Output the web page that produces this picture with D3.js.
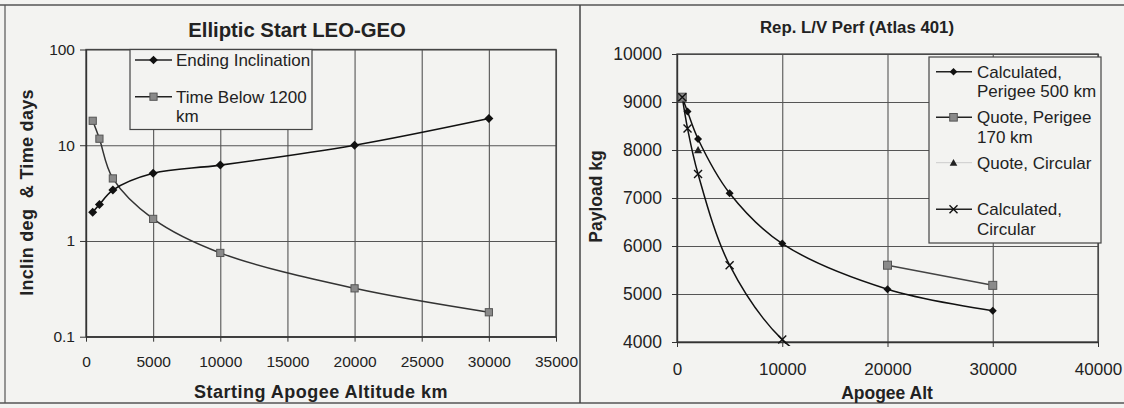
<!DOCTYPE html>
<html><head><meta charset="utf-8">
<script src="https://cdn.jsdelivr.net/npm/d3@7"></script>
<style>
html,body{margin:0;padding:0;background:#f3f3f1;}
svg{display:block;font-family:"Liberation Sans",Arial,sans-serif;}
</style></head>
<body>
<svg id="c" width="1124" height="408"></svg>
<script>
// ---------- DATA ----------
// Left chart: Elliptic Start LEO-GEO
const leftApogee = [500, 1000, 2000, 5000, 10000, 20000, 30000];
const endingInclination = [2.0, 2.4, 3.4, 5.1, 6.2, 10, 19];
const timeBelow1200 = [18, 11.7, 4.5, 1.7, 0.75, 0.32, 0.18];
const leftXTicks = [0, 5000, 10000, 15000, 20000, 25000, 30000, 35000];
const leftYTicks = [0.1, 1, 10, 100];
const leftLegend = [["Ending Inclination"], ["Time Below 1200", "km"]];

// Right chart: Rep. L/V Perf (Atlas 401)
const rightApogee = [500, 1000, 2000, 5000, 10000, 20000, 30000];
const calcPerigee500 = [9100, 8800, 8230, 7100, 6050, 5100, 4650];
const quotePerigee170 = [9100, null, null, null, null, 5600, 5180];
const quoteCircular = [null, null, 8000, null, null, null, null];
const calcCircularApogee = [500, 1000, 2000, 5000, 10000, 20000];
const calcCircular = [9100, 8450, 7500, 5600, 4050, 2600];
const rightXTicks = [0, 10000, 20000, 30000, 40000];
const rightYTicks = [4000, 5000, 6000, 7000, 8000, 9000, 10000];
const rightLegend = [["Calculated,", "Perigee 500 km"], ["Quote, Perigee", "170 km"], ["Quote, Circular"], ["Calculated,", "Circular"]];

// ---------- DRAW ----------
const svg = d3.select("#c");
const BG = "#f3f3f1", GRID = "#555";
const FONT = '"Liberation Sans", Arial, sans-serif';

// panel frame
svg.append("line").attr("x1",0).attr("x2",1124).attr("y1",5).attr("y2",5).attr("stroke","#555").attr("stroke-width",1.5);
svg.append("line").attr("x1",0).attr("x2",1124).attr("y1",403).attr("y2",403).attr("stroke","#555").attr("stroke-width",1.5);
svg.append("line").attr("x1",5).attr("x2",5).attr("y1",5).attr("y2",403).attr("stroke","#555").attr("stroke-width",1.2);
svg.append("line").attr("x1",580).attr("x2",580).attr("y1",5).attr("y2",403).attr("stroke","#444").attr("stroke-width",1.5);

function marker(g, type, x, y, s) {
  if (type === "diamond") {
    g.append("path").attr("d", `M${x},${y-s}L${x+s},${y}L${x},${y+s}L${x-s},${y}Z`).attr("fill", "#111");
  } else if (type === "square") {
    g.append("rect").attr("x", x-s).attr("y", y-s).attr("width", 2*s).attr("height", 2*s)
      .attr("fill", "#8a8a8a").attr("stroke", "#555").attr("stroke-width", 1);
  } else if (type === "triangle") {
    g.append("path").attr("d", `M${x},${y-s}L${x+s},${y+s*0.8}L${x-s},${y+s*0.8}Z`).attr("fill", "#222");
  } else if (type === "x") {
    g.append("path").attr("d", `M${x-s},${y-s}L${x+s},${y+s}M${x+s},${y-s}L${x-s},${y+s}`)
      .attr("stroke", "#111").attr("stroke-width", 1.4).attr("fill", "none");
  }
}

// ================= LEFT CHART =================
(function(){
  const L = 86, R = 556, T = 49.5, B = 336.7;
  const x = d3.scaleLinear().domain([0, 35000]).range([L, R]);
  const y = d3.scaleLog().domain([0.1, 100]).range([B, T]);
  const g = svg.append("g");

  g.append("g").attr("transform", `translate(0,${B})`)
    .call(d3.axisBottom(x).tickValues(leftXTicks).tickSize(-(B - T)).tickFormat(""))
    .call(s => { s.select(".domain").remove(); s.selectAll("line").attr("stroke", GRID).attr("stroke-width", 1.1); });
  g.append("g").attr("transform", `translate(${L},0)`)
    .call(d3.axisLeft(y).tickValues(leftYTicks).tickSize(-(R - L)).tickFormat(""))
    .call(s => { s.select(".domain").remove(); s.selectAll("line").attr("stroke", GRID).attr("stroke-width", 1.1); });
  g.append("rect").attr("x", L).attr("y", T).attr("width", R - L).attr("height", B - T)
    .attr("fill", "none").attr("stroke", "#444").attr("stroke-width", 1.3);

  g.append("g").attr("transform", `translate(0,${B})`)
    .call(d3.axisBottom(x).tickValues(leftXTicks).tickSizeInner(5).tickSizeOuter(0).tickPadding(14).tickFormat(d3.format("")))
    .call(s => { s.select(".domain").attr("stroke", "#333").attr("stroke-width", 1.3);
      s.selectAll("line").attr("stroke", "#333");
      s.selectAll("text").attr("font-family", FONT).attr("font-size", 15.5).attr("fill", "#222"); });
  g.append("g").attr("transform", `translate(${L},0)`)
    .call(d3.axisLeft(y).tickValues(leftYTicks).tickSizeInner(6).tickSizeOuter(0).tickPadding(5).tickFormat(d3.format("")))
    .call(s => { s.select(".domain").attr("stroke", "#333").attr("stroke-width", 1.3);
      s.selectAll("line").attr("stroke", "#333");
      s.selectAll("text").attr("font-family", FONT).attr("font-size", 15.5).attr("fill", "#222"); });

  const line = d3.line().x(d => x(d[0])).y(d => y(d[1])).curve(d3.curveCatmullRom.alpha(0.5));
  const s1 = leftApogee.map((a, i) => [a, endingInclination[i]]);
  const s2 = leftApogee.map((a, i) => [a, timeBelow1200[i]]);
  g.append("path").attr("d", line(s2)).attr("fill", "none").attr("stroke", "#333").attr("stroke-width", 1.5);
  g.append("path").attr("d", line(s1)).attr("fill", "none").attr("stroke", "#111").attr("stroke-width", 1.6);
  s2.forEach(d => marker(g, "square", x(d[0]), y(d[1]), 3.6));
  s1.forEach(d => marker(g, "diamond", x(d[0]), y(d[1]), 4.5));

  const lg = g.append("g");
  lg.append("rect").attr("x", 130).attr("y", 49.5).attr("width", 182).attr("height", 80)
    .attr("fill", BG).attr("stroke", "#444").attr("stroke-width", 1.2);
  const rows = [60, 96.7];
  const types = ["diamond", "square"];
  leftLegend.forEach((lines, i) => {
    const yy = rows[i];
    lg.append("line").attr("x1", 135).attr("x2", 172).attr("y1", yy).attr("y2", yy).attr("stroke", "#222").attr("stroke-width", 1.5);
    marker(lg, types[i], 153.5, yy, types[i] === "diamond" ? 4.3 : 3.6);
    lines.forEach((t, j) => lg.append("text").attr("x", 176).attr("y", yy + j * 19).attr("dy", "0.36em")
      .attr("font-size", 17).attr("fill", "#222").text(t));
  });

  g.append("text").attr("x", 297).attr("y", 30).attr("dy", "0.36em").attr("text-anchor", "middle")
    .attr("font-size", 20.3).attr("font-weight", "bold").attr("fill", "#222").text("Elliptic Start LEO-GEO");
  g.append("text").attr("x", 321).attr("y", 391.7).attr("dy", "0.36em").attr("text-anchor", "middle")
    .attr("font-size", 18).attr("font-weight", "bold").attr("letter-spacing", 0.5).attr("fill", "#222").text("Starting Apogee Altitude km");
  g.append("text").attr("transform", "translate(26.7,192.5) rotate(-90)").attr("dy", "0.36em").attr("text-anchor", "middle")
    .attr("font-size", 18).attr("font-weight", "bold").attr("letter-spacing", 0.3).attr("fill", "#222")
    .style("white-space", "pre").text("Inclin deg  & Time days");
})();

// ================= RIGHT CHART =================
(function(){
  const L = 677, R = 1098, T = 54, B = 342;
  const x = d3.scaleLinear().domain([0, 40000]).range([L, R]);
  const y = d3.scaleLinear().domain([4000, 10000]).range([B, T]);
  const g = svg.append("g");

  svg.append("clipPath").attr("id", "clipR").append("rect").attr("x", L).attr("y", T - 6).attr("width", R - L).attr("height", B - T + 10);

  g.append("g").attr("transform", `translate(0,${B})`)
    .call(d3.axisBottom(x).tickValues(rightXTicks).tickSize(-(B - T)).tickFormat(""))
    .call(s => { s.select(".domain").remove(); s.selectAll("line").attr("stroke", GRID).attr("stroke-width", 1.1); });
  g.append("g").attr("transform", `translate(${L},0)`)
    .call(d3.axisLeft(y).tickValues(rightYTicks).tickSize(-(R - L)).tickFormat(""))
    .call(s => { s.select(".domain").remove(); s.selectAll("line").attr("stroke", GRID).attr("stroke-width", 1.1); });
  g.append("rect").attr("x", L).attr("y", T).attr("width", R - L).attr("height", B - T)
    .attr("fill", "none").attr("stroke", "#444").attr("stroke-width", 1.3);

  g.append("g").attr("transform", `translate(0,${B})`)
    .call(d3.axisBottom(x).tickValues(rightXTicks).tickSizeInner(5).tickSizeOuter(0).tickPadding(16).tickFormat(d3.format("")))
    .call(s => { s.select(".domain").attr("stroke", "#333").attr("stroke-width", 1.3);
      s.selectAll("line").attr("stroke", "#333");
      s.selectAll("text").attr("font-family", FONT).attr("font-size", 17).attr("fill", "#222"); });
  g.append("g").attr("transform", `translate(${L},0)`)
    .call(d3.axisLeft(y).tickValues(rightYTicks).tickSizeInner(5).tickSizeOuter(0).tickPadding(10).tickFormat(d3.format("")))
    .call(s => { s.select(".domain").attr("stroke", "#333").attr("stroke-width", 1.3);
      s.selectAll("line").attr("stroke", "#333");
      s.selectAll("text").attr("font-family", FONT).attr("font-size", 17.5).attr("fill", "#222"); });

  const line = d3.line().defined(d => d[1] != null).x(d => x(d[0])).y(d => y(d[1])).curve(d3.curveCatmullRom.alpha(0.5));
  const a = rightApogee.map((v, i) => [v, calcPerigee500[i]]);
  const b = rightApogee.map((v, i) => [v, quotePerigee170[i]]);
  const c = rightApogee.map((v, i) => [v, quoteCircular[i]]);
  const dd = calcCircularApogee.map((v, i) => [v, calcCircular[i]]);
  const pg = g.append("g").attr("clip-path", "url(#clipR)");
  pg.append("path").attr("d", line(b)).attr("fill", "none").attr("stroke", "#444").attr("stroke-width", 1.5);
  pg.append("path").attr("d", line(dd)).attr("fill", "none").attr("stroke", "#111").attr("stroke-width", 1.5);
  pg.append("path").attr("d", line(a)).attr("fill", "none").attr("stroke", "#111").attr("stroke-width", 1.5);
  a.forEach(d => marker(pg, "diamond", x(d[0]), y(d[1]), 4));
  b.filter(d => d[1] != null).forEach(d => marker(pg, "square", x(d[0]), y(d[1]), 4));
  c.filter(d => d[1] != null).forEach(d => marker(pg, "triangle", x(d[0]), y(d[1]), 4));
  dd.forEach(d => marker(pg, "x", x(d[0]), y(d[1]), 4));

  const lg = g.append("g");
  lg.append("rect").attr("x", 929).attr("y", 57).attr("width", 172).attr("height", 186)
    .attr("fill", BG).attr("stroke", "#444").attr("stroke-width", 1.2);
  const rows = [71.7, 117.3, 162.7, 209.3];
  const types = ["diamond", "square", "triangle", "x"];
  rightLegend.forEach((lines, i) => {
    const yy = rows[i];
    lg.append("line").attr("x1", 936).attr("x2", 972).attr("y1", yy).attr("y2", yy)
      .attr("stroke", types[i] === "triangle" ? "#ccc" : "#222").attr("stroke-width", types[i] === "triangle" ? 1 : 1.5);
    marker(lg, types[i], 953.5, yy, types[i] === "x" ? 4 : 3.8);
    lines.forEach((t, j) => lg.append("text").attr("x", 977).attr("y", yy + j * 19.5).attr("dy", "0.36em")
      .attr("font-size", 17).attr("fill", "#222").text(t));
  });

  g.append("text").attr("x", 857).attr("y", 26.7).attr("dy", "0.36em").attr("text-anchor", "middle")
    .attr("font-size", 16.8).attr("font-weight", "bold").attr("fill", "#222").text("Rep. L/V Perf (Atlas 401)");
  g.append("text").attr("x", 887).attr("y", 392.7).attr("dy", "0.36em").attr("text-anchor", "middle")
    .attr("font-size", 17.5).attr("font-weight", "bold").attr("fill", "#222").text("Apogee Alt");
  g.append("text").attr("transform", "translate(596,196.5) rotate(-90)").attr("dy", "0.36em").attr("text-anchor", "middle")
    .attr("font-size", 17.5).attr("font-weight", "bold").attr("fill", "#222").text("Payload kg");
})();
</script>
</body></html>
